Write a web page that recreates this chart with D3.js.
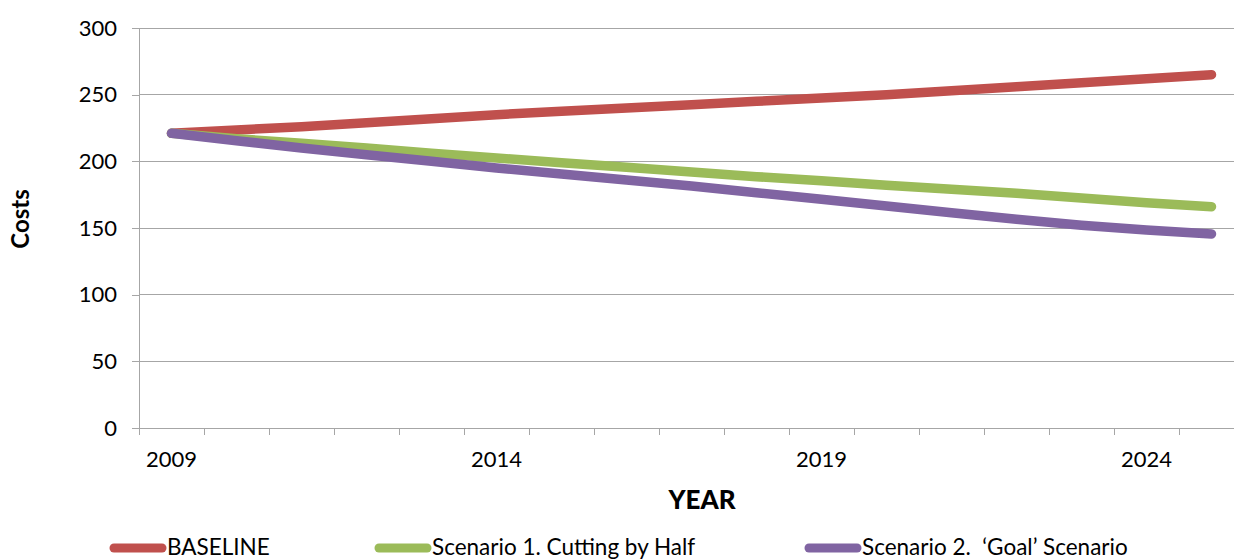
<!DOCTYPE html>
<html>
<head>
<meta charset="utf-8">
<script src="https://cdn.jsdelivr.net/npm/d3@7"></script>
<style>
  html, body { margin: 0; padding: 0; background: #fff; }
  svg { display: block; font-family: "Lato", "Open Sans", sans-serif; }
  text { white-space: pre; }
</style>
</head>
<body>
<svg id="chart" width="1234" height="560"></svg>
<script>
// Years on the category axis
const years = [2009, 2010, 2011, 2012, 2013, 2014, 2015, 2016, 2017, 2018, 2019, 2020, 2021, 2022, 2023, 2024, 2025];
// Cost projections per scenario
const baseline  = [221, 223.5, 226, 229, 232, 235, 237.5, 240, 242.5, 245, 247.5, 250, 253, 256, 259, 262, 265];
const scenario1 = [221, 217, 213.5, 210, 206, 202.5, 199, 195.5, 192, 188.5, 185.5, 182, 179, 176, 172.5, 169, 166];
const scenario2 = [221, 215.5, 210, 205, 200, 195, 190.5, 186, 181.5, 176.5, 171.5, 166.5, 161.5, 156.5, 152, 148.5, 145.5];
const seriesNames = ["BASELINE", "Scenario 1. Cutting by Half", "Scenario 2.  \u2018Goal\u2019 Scenario"];
const seriesColors = ["#C0504D", "#9BBB59", "#8064A2"];
const yTicks = [0, 50, 100, 150, 200, 250, 300];
const xLabelYears = [2009, 2014, 2019, 2024];

const series = [baseline, scenario1, scenario2];

const svg = d3.select("#chart");
const margin = { left: 139, top: 28, right: 1244, bottom: 428 };

const x = d3.scaleBand().domain(years).range([margin.left, margin.right]).padding(0);
const y = d3.scaleLinear().domain([0, 300]).range([margin.bottom, margin.top]);

// Horizontal gridlines
svg.append("g")
  .selectAll("line")
  .data(yTicks.filter(d => d > 0))
  .join("line")
  .attr("x1", margin.left).attr("x2", margin.right)
  .attr("y1", d => y(d)).attr("y2", d => y(d))
  .attr("stroke", "#A6A6A6").attr("stroke-width", 1)
  .attr("shape-rendering", "crispEdges");

// Y axis
const yAxis = svg.append("g")
  .attr("transform", `translate(${margin.left},0)`)
  .call(d3.axisLeft(y).tickValues(yTicks).tickSize(7).tickPadding(15));
yAxis.select(".domain").attr("stroke", "#A6A6A6").attr("shape-rendering", "crispEdges");
yAxis.selectAll(".tick line").attr("stroke", "#A6A6A6").attr("shape-rendering", "crispEdges");
yAxis.selectAll(".tick text").attr("font-size", 22).attr("fill", "#000")
  .attr("font-family", "Lato, 'Open Sans', sans-serif");

// X axis: ticks between categories, labels every fifth year
const xAxisG = svg.append("g").attr("transform", `translate(0,${margin.bottom})`);
xAxisG.append("line")
  .attr("x1", margin.left).attr("x2", margin.right)
  .attr("y1", 0).attr("y2", 0)
  .attr("stroke", "#A6A6A6").attr("shape-rendering", "crispEdges");
const boundaries = years.map(d => x(d)).concat([x(years[years.length - 1]) + x.bandwidth()]);
xAxisG.selectAll("line.tk")
  .data(boundaries)
  .join("line").attr("class", "tk")
  .attr("x1", d => d).attr("x2", d => d)
  .attr("y1", 0).attr("y2", 7)
  .attr("stroke", "#A6A6A6").attr("shape-rendering", "crispEdges");
xAxisG.selectAll("text")
  .data(xLabelYears)
  .join("text")
  .attr("x", d => x(d) + x.bandwidth() / 2)
  .attr("y", 39)
  .attr("text-anchor", "middle")
  .attr("font-size", 22)
  .text(d => d);

// Axis titles
svg.append("text")
  .attr("transform", `translate(29,219) rotate(-90)`)
  .attr("text-anchor", "middle")
  .attr("font-size", 24).attr("font-weight", "bold")
  .text("Costs");
svg.append("text")
  .attr("x", 702).attr("y", 509)
  .attr("text-anchor", "middle")
  .attr("font-size", 26).attr("font-weight", "900")
  .text("YEAR");

// Series lines
const line = d3.line()
  .x((d, i) => x(years[i]) + x.bandwidth() / 2)
  .y(d => y(d));
svg.append("g")
  .selectAll("path")
  .data(series)
  .join("path")
  .attr("d", d => line(d))
  .attr("fill", "none")
  .attr("stroke", (d, i) => seriesColors[i])
  .attr("stroke-width", 9.5)
  .attr("stroke-linecap", "round")
  .attr("stroke-linejoin", "round");

// Legend
const legendX = [114, 379, 809];
const legend = svg.append("g").selectAll("g")
  .data(seriesNames)
  .join("g")
  .attr("transform", (d, i) => `translate(${legendX[i]},548)`);
legend.append("line")
  .attr("x1", 0).attr("x2", 48)
  .attr("y1", 0).attr("y2", 0)
  .attr("stroke", (d, i) => seriesColors[i])
  .attr("stroke-width", 9)
  .attr("stroke-linecap", "round");
legend.append("text")
  .attr("x", 53).attr("y", 7)
  .attr("font-size", 22.5)
  .text(d => d);
</script>
</body>
</html>
